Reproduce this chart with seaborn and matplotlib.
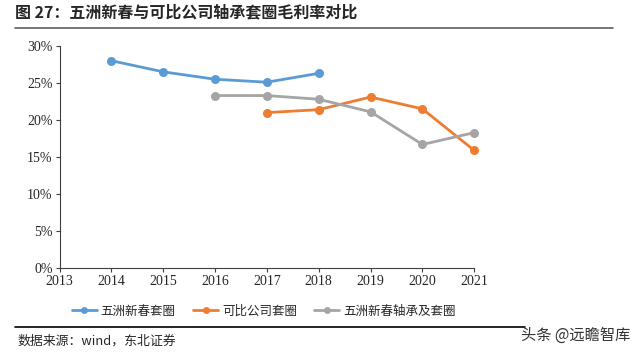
import matplotlib
matplotlib.use("Agg")
import matplotlib.pyplot as plt
import matplotlib.ticker as mticker
import pandas as pd
import seaborn as sns

# Data (gross margin, %)
years_blue = [2014, 2015, 2016, 2017, 2018]
wzxc_rings = [28.0, 26.5, 25.5, 25.1, 26.3]

years_orange = [2017, 2018, 2019, 2020, 2021]
peer_rings = [21.0, 21.4, 23.1, 21.5, 15.9]

years_gray = [2016, 2017, 2018, 2019, 2020, 2021]
wzxc_bearing_rings = [23.3, 23.3, 22.8, 21.1, 16.7, 18.3]

series_names = ["五洲新春套圈", "可比公司套圈", "五洲新春轴承及套圈"]
series_colors = ["#5B9BD5", "#ED7D31", "#A5A5A5"]

df = pd.concat([
    pd.DataFrame({"year": years_blue, "value": wzxc_rings, "series": series_names[0]}),
    pd.DataFrame({"year": years_orange, "value": peer_rings, "series": series_names[1]}),
    pd.DataFrame({"year": years_gray, "value": wzxc_bearing_rings, "series": series_names[2]}),
])

sns.set_style("white")
plt.rcParams["font.family"] = ["Noto Sans CJK SC", "DejaVu Sans"]

fig = plt.figure(figsize=(6.4, 3.53), dpi=100)
ax = fig.add_axes([0.093, 0.240, 0.648, 0.630])

sns.lineplot(data=df, x="year", y="value", hue="series", hue_order=series_names,
             palette=series_colors, marker="o", markersize=6.5, markeredgewidth=0,
             linewidth=2, ax=ax, legend=False)
for ln in ax.lines:
    ln.set_clip_on(False)

ax.set_xlim(2013, 2021)
ax.set_ylim(0, 30)
ax.set_xticks(range(2013, 2022))
ax.set_yticks(range(0, 31, 5))
ax.yaxis.set_major_formatter(mticker.FuncFormatter(lambda v, p: f"{int(v)}%"))
ax.set_xlabel("")
ax.set_ylabel("")
for lab in ax.get_xticklabels() + ax.get_yticklabels():
    lab.set_family("Liberation Serif")
    lab.set_fontsize(10)
ax.tick_params(axis="both", direction="out", length=3, width=0.8, color="#404040",
               pad=2, bottom=True, left=True)
sns.despine(ax=ax)
for s in ["left", "bottom"]:
    ax.spines[s].set_color("#404040")
    ax.spines[s].set_linewidth(0.8)

# legend
handles = [plt.Line2D([0], [0], color=c, lw=2, marker="o", markersize=5, markeredgewidth=0)
           for c in series_colors]
fig.legend(handles, series_names, loc="center", bbox_to_anchor=(0.412, 0.118), ncol=3,
           frameon=False, fontsize=9, handlelength=2.0, columnspacing=1.4, handletextpad=0.3)

# title and rules
fig.text(0.023, 0.965, "图 27：五洲新春与可比公司轴承套圈毛利率对比", fontsize=11.5,
         fontweight="bold", va="center", ha="left")
fig.add_artist(plt.Line2D([0.023, 0.958], [0.921, 0.921], color="#606060", lw=1.2))
fig.add_artist(plt.Line2D([0.023, 0.82], [0.074, 0.074], color="black", lw=1.2))
fig.text(0.027, 0.035, "数据来源：wind，东北证券", fontsize=9.3, va="center", ha="left")
fig.text(0.985, 0.05, "头条 @远瞻智库", fontsize=11, va="center", ha="right", color="#333333")

fig.savefig("out.png", dpi=100)
